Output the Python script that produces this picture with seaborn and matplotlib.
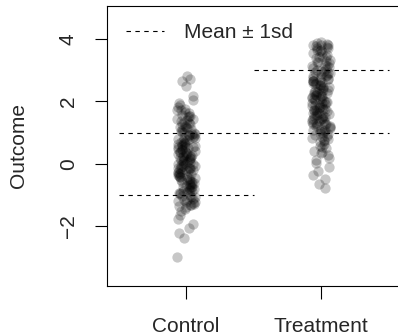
import numpy as np
import pandas as pd
import matplotlib
matplotlib.use("Agg")
import matplotlib.pyplot as plt
from matplotlib.lines import Line2D
import seaborn as sns

groups = ["Control", "Treatment"]
group_means = [0.0, 2.0]
group_sds = [1.0, 1.0]

control = [
    2.83, 2.72, 2.65, 2.48, 2.18, 2.05, 1.95, 1.88, 1.82, 1.76, 1.71, 1.66,
    1.62, 1.58, 1.53, 1.49, 1.45, 1.41, 1.37, 1.33, 1.29, 1.26, 1.22, 1.19,
    1.15, 1.12, 1.09, 1.05, 1.02, 0.99, 0.96, 0.93, 0.90, 0.87, 0.84, 0.81,
    0.78, 0.75, 0.72, 0.69, 0.66, 0.64, 0.61, 0.58, 0.55, 0.53, 0.50, 0.47,
    0.45, 0.42, 0.39, 0.37, 0.34, 0.31, 0.29, 0.26, 0.24, 0.21, 0.18, 0.16,
    0.13, 0.11, 0.08, 0.05, 0.03, 0.00, -0.02, -0.05, -0.07, -0.10, -0.12,
    -0.15, -0.18, -0.20, -0.23, -0.25, -0.28, -0.31, -0.33, -0.36, -0.39,
    -0.41, -0.44, -0.47, -0.50, -0.53, -0.55, -0.58, -0.61, -0.64, -0.67,
    -0.70, -0.73, -0.76, -0.79, -0.82, -0.85, -0.88, -0.91, -0.95, -0.98,
    -1.01, -1.05, -1.08, -1.12, -1.16, -1.20, -1.24, -1.28, -1.33, -1.38,
    -1.44, -1.52, -1.63, -1.78, -1.92, -2.05, -2.22, -2.38, -2.99,
    1.74, 1.52, 1.31, 1.17, 1.03, 0.91, 0.82, 0.71, 0.62, 0.54, 0.46, 0.40,
    0.33, 0.27, 0.19, 0.12, 0.06, -0.01, -0.08, -0.14, -0.21, -0.27, -0.34,
    -0.42, -0.49, -0.57, -0.66, -0.74, -0.83, -0.93, -1.04, -1.15, -1.27,
    -1.36, 1.44, 0.97, 0.58, 0.22, -0.17, -0.52, -0.88, -1.22, -1.31,
]

treatment = [
    3.89, 3.86, 3.84, 3.82, 3.80, 3.78, 3.75, 3.72, 3.70, 3.66, 3.62, 3.58,
    3.54, 3.50, 3.46, 3.42, 3.38, 3.34, 3.30, 3.26, 3.22, 3.18, 3.15, 3.12,
    3.08, 3.05, 3.02, 2.98, 2.95, 2.92, 2.88, 2.85, 2.82, 2.79, 2.76, 2.73,
    2.70, 2.67, 2.64, 2.61, 2.58, 2.55, 2.52, 2.49, 2.46, 2.43, 2.40, 2.37,
    2.34, 2.31, 2.28, 2.25, 2.22, 2.19, 2.16, 2.13, 2.10, 2.07, 2.04, 2.01,
    1.98, 1.95, 1.92, 1.89, 1.86, 1.83, 1.80, 1.77, 1.74, 1.71, 1.68, 1.65,
    1.62, 1.59, 1.56, 1.53, 1.50, 1.47, 1.44, 1.41, 1.38, 1.35, 1.32, 1.29,
    1.26, 1.23, 1.20, 1.16, 1.12, 1.08, 1.04, 1.00, 0.96, 0.92, 0.88, 0.84,
    0.80, 0.75, 0.70, 0.65, 0.58, 0.50, 0.42, 0.35, 0.28, 0.20, 0.12, 0.02,
    -0.10, -0.22, -0.35, -0.50, -0.65, -0.78,
    3.81, 3.64, 3.44, 3.28, 3.10, 2.97, 2.83, 2.71, 2.59, 2.47, 2.36, 2.26,
    2.17, 2.08, 1.99, 1.90, 1.81, 1.72, 1.63, 1.54, 1.45, 1.36, 1.27, 1.18,
    1.09, 0.98, 0.86, 0.72, 0.55, 0.38, 2.90, 2.52, 2.12, 1.76, 1.42, 1.06,
    2.66, 2.30, 1.94, 1.58, 1.22,
]

df = pd.DataFrame({
    "group": ["Control"] * len(control) + ["Treatment"] * len(treatment),
    "outcome": control + treatment,
})

sns.set_style("white")
plt.rcParams["font.family"] = ["Liberation Sans", "DejaVu Sans"]

np.random.seed(3)
fig = plt.figure(figsize=(3.98, 3.36), dpi=100)
ax = fig.add_axes([107 / 398, 50 / 336, 300 / 398, 280 / 336])

sns.stripplot(data=df, x="group", y="outcome", order=groups, color="black",
              alpha=0.22, size=7.4, linewidth=0, jitter=0.07, ax=ax)

dash = (0, (4, 4))
for i, (m, s) in enumerate(zip(group_means, group_sds)):
    ax.hlines([m + s, m - s], i - 0.5, i + 0.5, colors="black",
              linestyles=dash, linewidth=0.8)

ax.set_xlim(-79 / 135, (300 - 79) / 135)
ax.set_ylim(-3.92, 5.06)
ax.set_yticks([-2, 0, 2, 4])
ax.set_yticklabels(["\u22122", "0", "2", "4"])
ax.set_xlabel("")
ax.set_ylabel("Outcome", fontsize=15, labelpad=22)

for sp in ax.spines.values():
    sp.set_color("black")
    sp.set_linewidth(0.8)
    sp.set_visible(True)

ax.tick_params(axis="both", direction="out", length=9, width=0.8,
               color="black", labelsize=15, left=True, bottom=True)
ax.tick_params(axis="y", pad=12)
ax.tick_params(axis="x", pad=13)
for lab in ax.get_yticklabels():
    lab.set_rotation(90)
    lab.set_va("center")

handle = Line2D([], [], color="black", linestyle=dash, linewidth=0.8)
ax.legend([handle], ["Mean \u00b1 1sd"], loc="center left",
          bbox_to_anchor=(19 / 300, 1 - 27 / 280), frameon=False,
          fontsize=15, handlelength=1.8, handletextpad=1.0,
          borderpad=0, borderaxespad=0)

fig.savefig("out.png", dpi=100)
